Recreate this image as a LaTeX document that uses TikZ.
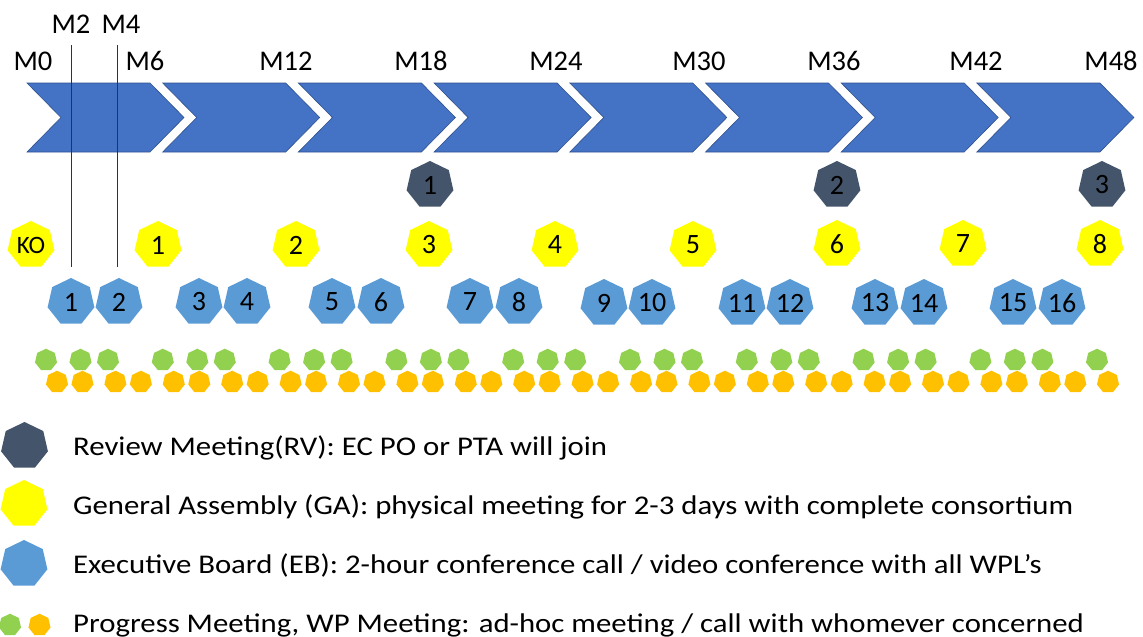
\documentclass[tikz,border=0pt]{standalone}
\usepackage{fontspec}
\setmainfont{Carlito}
\newfontfamily\legendfont[FakeStretch=1.14]{Carlito}
\usepackage{xcolor}
\usetikzlibrary{shapes.geometric}
\definecolor{phase}{HTML}{4472C4}
\definecolor{phaseedge}{HTML}{2F528F}
\definecolor{review}{HTML}{44546A}
\definecolor{assembly}{HTML}{FFFF00}
\definecolor{board}{HTML}{5B9BD5}
\definecolor{progress}{HTML}{92D050}
\definecolor{wpmeet}{HTML}{FFC000}

\tikzset{
  hepta/.style={regular polygon, regular polygon sides=7, inner sep=0pt,
    minimum size=48pt, font=\fontsize{28}{30}\selectfont},
  rv/.style={hepta, fill=review},
  ga/.style={hepta, fill=assembly},
  eb/.style={hepta, fill=board},
  dot/.style={regular polygon, regular polygon sides=7, inner sep=0pt, minimum size=22.6pt},
  pm/.style={dot, fill=progress},
  wp/.style={dot, fill=wpmeet},
  month/.style={font=\fontsize{28.5}{30}\selectfont, inner sep=0pt, anchor=base},
  legend/.style={font=\legendfont\fontsize{27}{29}\selectfont, inner sep=0pt, anchor=base west},
}

\begin{document}
\begin{tikzpicture}[x=1pt, y=-1pt]
  \useasboundingbox (0,0) rectangle (1143,637);

  % project phases, one chevron per six months
  \foreach \i in {0,...,7}{
    \pgfmathsetmacro{\s}{27+135.7*\i}
    \filldraw[fill=phase, draw=phaseedge, line width=0.6pt]
      (\s,83) -- ++(123,0) -- ++(34,34.5) -- ++(-34,34.5) -- ++(-123,0) -- ++(34,-34.5) -- cycle;
  }

  % month labels
  \node[month] (m0)  at (33,70)   {M0};
  \node[month] (m6)  at (145,70)  {M6};
  \node[month] (m12) at (286,70)  {M12};
  \node[month] (m18) at (421,70)  {M18};
  \node[month] (m24) at (556,70)  {M24};
  \node[month] (m30) at (699,70)  {M30};
  \node[month] (m36) at (834,70)  {M36};
  \node[month] (m42) at (976,70)  {M42};
  \node[month] (m48) at (1111,70) {M48};
  \node[month] (m2)  at (71,33)   {M2};
  \node[month] (m4)  at (121,33)  {M4};

  % markers for M2 and M4
  \coordinate (m2top) at (71,45);  \coordinate (m2bot) at (71,267);
  \coordinate (m4top) at (117,45); \coordinate (m4bot) at (117,267);
  \draw[black!80, line width=0.8pt] (m2top) -- (m2bot);
  \draw[black!80, line width=0.8pt] (m4top) -- (m4bot);

  % review meetings
  \node[rv] (rv1) at (430,185)  {1};
  \node[rv] (rv2) at (837,185)  {2};
  \node[rv] (rv3) at (1102,185) {3};

  % general assemblies
  \node[ga, font=\fontsize{25}{27}\selectfont] (ko) at (31,245) {KO};
  \node[ga] (ga1) at (158,245)  {1};
  \node[ga] (ga2) at (296,245)  {2};
  \node[ga] (ga3) at (429,245)  {3};
  \node[ga] (ga4) at (555,245)  {4};
  \node[ga] (ga5) at (693,245)  {5};
  \node[ga] (ga6) at (837,244)  {6};
  \node[ga] (ga7) at (963,244)  {7};
  \node[ga] (ga8) at (1100,244) {8};

  % executive board
  \node[eb] (eb1)  at (71,302)   {1};
  \node[eb] (eb2)  at (119,302)  {2};
  \node[eb] (eb3)  at (199,302)  {3};
  \node[eb] (eb4)  at (247,302)  {4};
  \node[eb] (eb5)  at (332,302)  {5};
  \node[eb] (eb6)  at (381,302)  {6};
  \node[eb] (eb7)  at (470,302)  {7};
  \node[eb] (eb8)  at (519,302)  {8};
  \node[eb] (eb9)  at (604,303)  {9};
  \node[eb] (eb10) at (652,303)  {10};
  \node[eb] (eb11) at (742,303)  {11};
  \node[eb] (eb12) at (790,303)  {12};
  \node[eb] (eb13) at (875,303)  {13};
  \node[eb] (eb14) at (924,303)  {14};
  \node[eb] (eb15) at (1013,303) {15};
  \node[eb] (eb16) at (1062,303) {16};

  % progress meetings, three per group
  \foreach \g in {0,...,8}
    \foreach \d [count=\j] in {0,34.5,62}
      \node[pm] (pm\g-\j) at ({46+116.8*\g+\d},360) {};
  \node[pm] (pm9-1) at (1097,360) {};

  % WP meetings, in pairs
  \foreach \w in {0,...,17}{
    \node[wp] (wp\w-1) at ({57+58.4*\w},382) {};
    \node[wp] (wp\w-2) at ({82.5+58.4*\w},382) {};
  }
  \node[wp] (wp18-1) at (1108,382) {};

  % legend
  \node[rv] (keyrv) at (24.5,446) {};
  \node[ga] (keyga) at (24,504) {};
  \node[eb] (keyeb) at (24,564) {};
  \node[pm] (keypm) at (10,625) {};
  \node[wp] (keywp) at (39.5,625) {};
  \node[legend] (txtrv) at (73,455) {Review Meeting(RV): EC PO or PTA will join};
  \node[legend] (txtga) at (73,514) {General Assembly (GA): physical meeting for 2-3 days with complete consortium};
  \node[legend] (txteb) at (73,573) {Executive Board (EB): 2-hour conference call / video conference with all WPL’s};
  \node[legend] (txtpm) at (73,632) {Progress Meeting, WP Meeting: ad-hoc meeting / call with whomever concerned};
\end{tikzpicture}
\end{document}
